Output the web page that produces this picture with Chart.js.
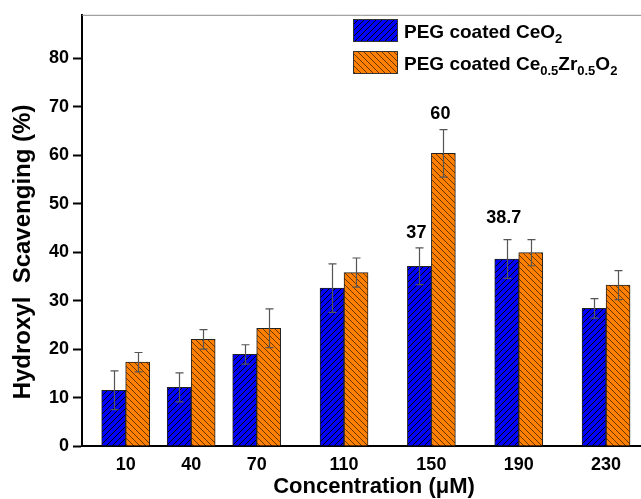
<!DOCTYPE html>
<html>
<head>
<meta charset="utf-8">
<script src="https://cdn.jsdelivr.net/npm/chart.js@4.4.1/dist/chart.umd.min.js"></script>
<style>
  body { margin: 0; background: #fff; }
  canvas { display: block; }
</style>
</head>
<body>
<canvas id="myChart" width="641" height="499"></canvas>
<script>
// data
const concentrations = [10, 40, 70, 110, 150, 190, 230];
const ceo2 = [11.5, 12.1, 18.9, 32.6, 37.1, 38.6, 28.4];
const ceo2Err = [4.0, 3.0, 2.0, 5.0, 3.8, 4.0, 2.0];
const ceZr = [17.3, 22.0, 24.3, 35.8, 60.4, 39.9, 33.2];
const ceZrErr = [2.0, 2.0, 4.0, 3.0, 4.9, 2.7, 3.0];
const yTicks = [0, 10, 20, 30, 40, 50, 60, 70, 80];
const barLabels = [
    { ds: 0, i: 4, text: '37', lift: 15 },
    { ds: 1, i: 4, text: '60', lift: 16 },
    { ds: 0, i: 5, text: '38.7', lift: 22 }
];

const FONT = "'Liberation Sans', Arial, sans-serif";

function hatch(bg, line, dir) {
    const s = 6;
    const c = document.createElement('canvas');
    c.width = s; c.height = s;
    const g = c.getContext('2d');
    g.fillStyle = bg;
    g.fillRect(0, 0, s, s);
    g.strokeStyle = line;
    g.lineWidth = 1;
    g.beginPath();
    if (dir > 0) {
        g.moveTo(-1, s + 1); g.lineTo(s + 1, -1);
        g.moveTo(-1, 1); g.lineTo(1, -1);
        g.moveTo(s - 1, s + 1); g.lineTo(s + 1, s - 1);
    } else {
        g.moveTo(-1, -1); g.lineTo(s + 1, s + 1);
        g.moveTo(s - 1, -1); g.lineTo(s + 1, 1);
        g.moveTo(-1, s - 1); g.lineTo(1, s + 1);
    }
    g.stroke();
    return g.createPattern(c, 'repeat');
}

const ctx0 = document.getElementById('myChart').getContext('2d');
const bluePat = hatch('#0000ff', '#000000', 1);
const orangePat = hatch('#ff8000', '#6e3600', -1);

const toPoints = (arr) => arr.map((v, i) => ({ x: concentrations[i], y: v }));

const extras = {
    id: 'extras',
    afterDatasetsDraw(chart) {
        const ctx = chart.ctx;
        const ys = chart.scales.y;
        const area = chart.chartArea;
        const errs = [ceo2Err, ceZrErr];
        const vals = [ceo2, ceZr];

        // top frame line
        ctx.save();
        ctx.strokeStyle = '#8a8a8a';
        ctx.lineWidth = 1;
        ctx.beginPath();
        ctx.moveTo(area.left, area.top + 0.5);
        ctx.lineTo(area.right, area.top + 0.5);
        ctx.stroke();

        // error bars
        ctx.strokeStyle = '#555';
        ctx.lineWidth = 1.2;
        for (let d = 0; d < 2; d++) {
            const meta = chart.getDatasetMeta(d);
            meta.data.forEach((bar, i) => {
                const x = Math.round(bar.x) + 0.5;
                const top = ys.getPixelForValue(vals[d][i] + errs[d][i]);
                const bot = ys.getPixelForValue(vals[d][i] - errs[d][i]);
                ctx.beginPath();
                ctx.moveTo(x, top); ctx.lineTo(x, bot);
                ctx.moveTo(x - 4, top); ctx.lineTo(x + 4, top);
                ctx.moveTo(x - 4, bot); ctx.lineTo(x + 4, bot);
                ctx.stroke();
            });
        }

        // value labels
        ctx.fillStyle = '#000';
        ctx.font = 'bold 18px ' + FONT;
        ctx.textAlign = 'center';
        ctx.textBaseline = 'middle';
        barLabels.forEach(l => {
            const bar = chart.getDatasetMeta(l.ds).data[l.i];
            const top = ys.getPixelForValue(vals[l.ds][l.i] + errs[l.ds][l.i]);
            ctx.fillText(l.text, bar.x - 3, top - l.lift);
        });

        // axis titles
        ctx.font = 'bold 22px ' + FONT;
        ctx.fillText('Concentration (\u03bcM)', 374, 487);
        ctx.save();
        ctx.translate(23, 252);
        ctx.rotate(-Math.PI / 2);
        ctx.font = 'bold 24px ' + FONT;
        ctx.fillText('Hydroxyl  Scavenging (%)', 0, 0);
        ctx.restore();

        // legend with subscripts
        const items = [
            { fill: bluePat, parts: [['PEG coated CeO', 0], ['2', 1]] },
            { fill: orangePat, parts: [['PEG coated Ce', 0], ['0.5', 1], ['Zr', 0], ['0.5', 1], ['O', 0], ['2', 1]] }
        ];
        ctx.textAlign = 'left';
        ctx.textBaseline = 'alphabetic';
        items.forEach((it, k) => {
            const by = 19 + k * 32;
            ctx.fillStyle = it.fill;
            ctx.fillRect(353, by, 45, 23);
            ctx.strokeStyle = '#333';
            ctx.lineWidth = 1;
            ctx.strokeRect(353.5, by + 0.5, 44, 22);
            let x = 404;
            const base = by + 18.5;
            ctx.fillStyle = '#000';
            it.parts.forEach(p => {
                ctx.font = p[1] ? 'bold 13px ' + FONT : 'bold 19px ' + FONT;
                ctx.fillText(p[0], x, p[1] ? base + 5 : base);
                x += ctx.measureText(p[0]).width;
            });
        });
        ctx.restore();
    }
};

const myChart = new Chart(ctx0, {
    type: 'bar',
    data: {
        datasets: [{
            label: 'PEG coated CeO2',
            data: toPoints(ceo2),
            backgroundColor: bluePat,
            borderColor: '#222',
            borderWidth: 1,
            barThickness: 24
        }, {
            label: 'PEG coated Ce0.5Zr0.5O2',
            data: toPoints(ceZr),
            backgroundColor: orangePat,
            borderColor: '#222',
            borderWidth: 1,
            barThickness: 24
        }]
    },
    options: {
        responsive: false,
        animation: false,
        layout: { padding: { top: 13, left: 0, right: 0, bottom: 0 } },
        plugins: {
            legend: { display: false },
            tooltip: { enabled: false }
        },
        scales: {
            x: {
                type: 'linear',
                min: -10,
                max: 246,
                offset: false,
                afterFit: s => { s.height = 53; },
                afterBuildTicks: s => { s.ticks = concentrations.map(v => ({ value: v })); },
                grid: { display: true, drawOnChartArea: false, drawTicks: false, offset: false },
                border: { color: '#000', width: 2 },
                ticks: {
                    padding: 8,
                    color: '#000',
                    maxRotation: 0,
                    autoSkip: false,
                    font: { family: FONT, size: 18, weight: 'bold' }
                }
            },
            y: {
                min: 0,
                max: 89,
                afterFit: s => { s.width = 82; },
                afterBuildTicks: s => { s.ticks = yTicks.map(v => ({ value: v })); },
                grid: { drawOnChartArea: false, tickLength: 9, tickWidth: 2, tickColor: '#000' },
                border: { color: '#000', width: 2 },
                ticks: {
                    padding: 4,
                    color: '#000',
                    font: { family: FONT, size: 18, weight: 'bold' }
                }
            }
        }
    },
    plugins: [extras]
});
</script>
</body>
</html>
